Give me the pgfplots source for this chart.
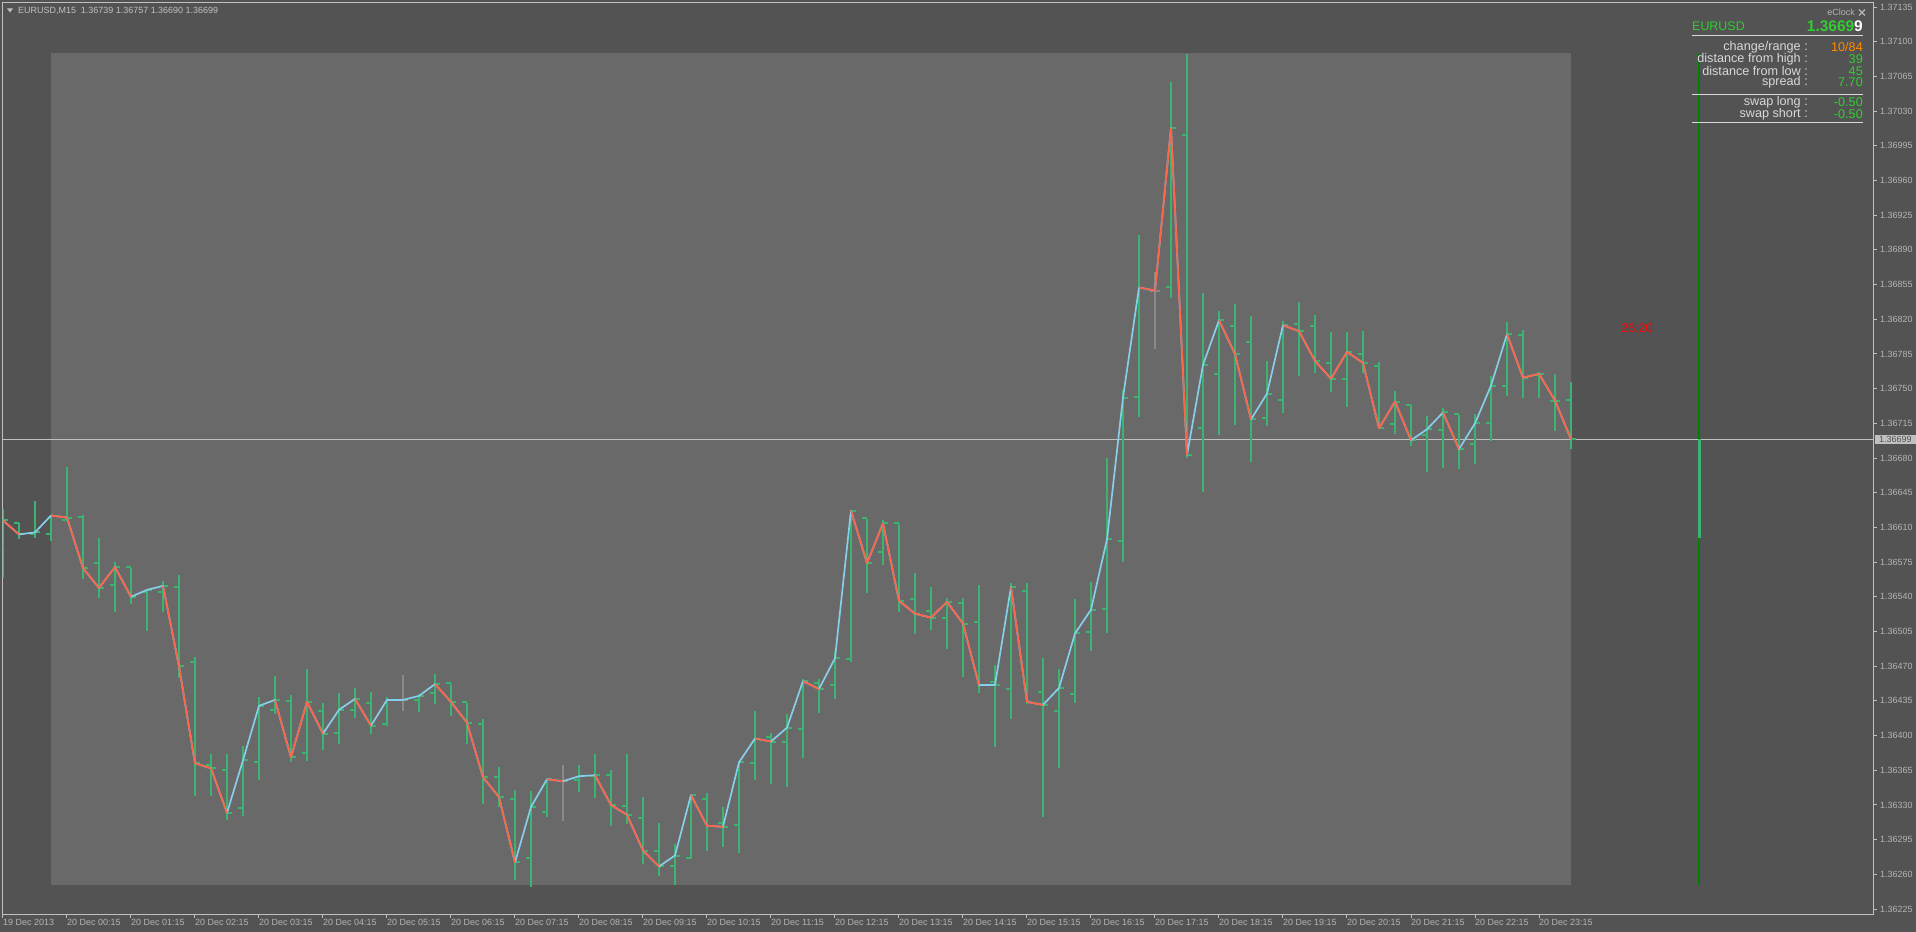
\documentclass[border=0pt]{standalone}
\usepackage{fontspec}
\setmainfont{Liberation Sans}
\usepackage{pgfplots}
\usepackage{pgfplotstable}
\pgfplotsset{compat=1.18}
\definecolor{bgc}{HTML}{535353}
\definecolor{rectc}{HTML}{696969}
\definecolor{barG}{HTML}{3CB371}
\definecolor{dojiG}{HTML}{8A8A8A}
\definecolor{lineUp}{HTML}{87CEEB}
\definecolor{lineDn}{HTML}{FF6347}
\definecolor{axc}{HTML}{C0C0C0}
\definecolor{labc}{HTML}{B4B4B4}
\definecolor{dkgreen}{HTML}{008000}
\definecolor{lgreen}{HTML}{32CD32}
\definecolor{orng}{HTML}{FF8C00}
\definecolor{paneltxt}{HTML}{D8D8D8}

% i = bar index (15-minute bars, 0 = 20 Dec 00:15); dj = 1 for doji (grey) bars;
% r = 1 where the close line is drawn in the "down" colour
\pgfplotstableread{
i o h l c dj r
-4 1.36592 1.36630 1.36560 1.36617 0 1
-3 1.36614 1.36615 1.36599 1.36603 0 1
-2 1.36603 1.36638 1.36600 1.36605 0 0
-1 1.36603 1.36622 1.36597 1.36622 0 1
0 1.36618 1.36671 1.36617 1.36620 0 1
1 1.36621 1.36624 1.36559 1.36569 0 1
2 1.36574 1.36601 1.36540 1.36549 0 1
3 1.36552 1.36575 1.36525 1.36570 0 1
4 1.36570 1.36570 1.36534 1.36540 0 1
5 1.36545 1.36547 1.36506 1.36547 0 0
6 1.36545 1.36556 1.36525 1.36551 0 1
7 1.36550 1.36563 1.36459 1.36470 0 1
8 1.36474 1.36480 1.36340 1.36372 0 1
9 1.36370 1.36382 1.36340 1.36367 0 1
10 1.36365 1.36381 1.36315 1.36322 0 1
11 1.36327 1.36390 1.36320 1.36375 0 0
12 1.36373 1.36439 1.36355 1.36430 0 0
13 1.36426 1.36461 1.36423 1.36436 0 1
14 1.36435 1.36442 1.36375 1.36378 0 1
15 1.36382 1.36468 1.36375 1.36434 0 1
16 1.36425 1.36433 1.36385 1.36402 0 1
17 1.36403 1.36444 1.36392 1.36426 0 0
18 1.36426 1.36449 1.36419 1.36437 0 1
19 1.36433 1.36444 1.36402 1.36410 0 1
20 1.36412 1.36440 1.36411 1.36436 0 0
21 1.36436 1.36461 1.36425 1.36436 1 0
22 1.36436 1.36443 1.36425 1.36440 0 0
23 1.36443 1.36464 1.36433 1.36452 0 1
24 1.36453 1.36453 1.36420 1.36434 0 1
25 1.36434 1.36434 1.36393 1.36413 0 1
26 1.36412 1.36418 1.36332 1.36358 0 1
27 1.36358 1.36368 1.36328 1.36338 0 1
28 1.36336 1.36347 1.36256 1.36272 0 1
29 1.36277 1.36346 1.36249 1.36328 0 0
30 1.36323 1.36357 1.36318 1.36356 0 1
31 1.36354 1.36370 1.36314 1.36354 1 1
32 1.36355 1.36372 1.36345 1.36359 0 0
33 1.36359 1.36381 1.36337 1.36360 0 1
34 1.36360 1.36366 1.36310 1.36330 0 1
35 1.36329 1.36382 1.36312 1.36320 0 1
36 1.36317 1.36338 1.36270 1.36284 0 1
37 1.36284 1.36313 1.36260 1.36268 0 1
38 1.36268 1.36292 1.36250 1.36279 0 0
39 1.36276 1.36340 1.36276 1.36340 0 1
40 1.36336 1.36343 1.36284 1.36309 0 1
41 1.36312 1.36329 1.36289 1.36308 0 1
42 1.36310 1.36375 1.36282 1.36373 0 0
43 1.36372 1.36426 1.36357 1.36397 0 1
44 1.36399 1.36403 1.36352 1.36394 0 1
45 1.36394 1.36422 1.36348 1.36408 0 0
46 1.36407 1.36458 1.36378 1.36455 0 1
47 1.36453 1.36458 1.36424 1.36447 0 1
48 1.36451 1.36486 1.36438 1.36478 0 0
49 1.36477 1.36628 1.36474 1.36627 0 1
50 1.36620 1.36620 1.36545 1.36574 0 1
51 1.36585 1.36619 1.36573 1.36614 0 1
52 1.36614 1.36614 1.36526 1.36536 0 1
53 1.36538 1.36564 1.36502 1.36523 0 1
54 1.36526 1.36550 1.36507 1.36519 0 1
55 1.36519 1.36540 1.36488 1.36535 0 1
56 1.36534 1.36539 1.36459 1.36513 0 1
57 1.36515 1.36552 1.36443 1.36451 0 1
58 1.36454 1.36472 1.36389 1.36451 0 0
59 1.36447 1.36555 1.36418 1.36550 0 1
60 1.36546 1.36555 1.36433 1.36434 0 1
61 1.36444 1.36479 1.36318 1.36431 0 1
62 1.36425 1.36468 1.36368 1.36448 0 0
63 1.36442 1.36539 1.36434 1.36503 0 0
64 1.36505 1.36555 1.36486 1.36527 0 0
65 1.36528 1.36681 1.36505 1.36598 0 0
66 1.36596 1.36749 1.36576 1.36741 0 0
67 1.36742 1.36906 1.36722 1.36852 0 1
68 1.36849 1.36868 1.36790 1.36849 1 1
69 1.36853 1.37061 1.36843 1.37013 0 1
70 1.37006 1.37089 1.36681 1.36683 0 1
71 1.36710 1.36848 1.36647 1.36774 0 0
72 1.36765 1.36829 1.36704 1.36819 0 1
73 1.36813 1.36835 1.36713 1.36785 0 1
74 1.36797 1.36823 1.36676 1.36719 0 1
75 1.36720 1.36779 1.36713 1.36745 0 0
76 1.36739 1.36820 1.36727 1.36814 0 1
77 1.36815 1.36837 1.36763 1.36808 0 1
78 1.36813 1.36826 1.36767 1.36778 0 1
79 1.36776 1.36808 1.36748 1.36760 0 1
80 1.36760 1.36808 1.36732 1.36787 0 1
81 1.36785 1.36809 1.36767 1.36776 0 1
82 1.36773 1.36778 1.36710 1.36710 0 1
83 1.36714 1.36748 1.36705 1.36737 0 1
84 1.36734 1.36734 1.36692 1.36698 0 1
85 1.36703 1.36723 1.36666 1.36709 0 0
86 1.36708 1.36731 1.36671 1.36726 0 1
87 1.36724 1.36724 1.36669 1.36689 0 1
88 1.36694 1.36725 1.36675 1.36715 0 0
89 1.36715 1.36763 1.36698 1.36753 0 0
90 1.36753 1.36817 1.36743 1.36805 0 1
91 1.36804 1.36810 1.36741 1.36761 0 1
92 1.36764 1.36767 1.36741 1.36765 0 1
93 1.36738 1.36766 1.36708 1.36738 0 1
94 1.36739 1.36757 1.36690 1.36699 0 1
}\bars

\begin{document}
\begin{tikzpicture}
\path[use as bounding box, fill=bgc] (0,0) rectangle (1916bp,932bp);
\begin{axis}[
  at={(2.5bp,18bp)}, anchor=south west,
  width=1870.5bp, height=911.5bp, scale only axis,
  xmin=-4.03, xmax=112.875, ymin=1.36220, ymax=1.371396,
  axis line style={draw=axc, line width=1bp},
  tick style={draw=axc, line width=1bp},
  tick align=outside, major tick length=4bp,
  xtick pos=bottom, ytick pos=right, yticklabel pos=right,
  scaled y ticks=false, scaled x ticks=false,
  xtick={-4,0,4,8,12,16,20,24,28,32,36,40,44,48,52,56,60,64,68,72,76,80,84,88,92},
  xticklabels={19 Dec 2013,20 Dec 00:15,20 Dec 01:15,20 Dec 02:15,20 Dec 03:15,20 Dec 04:15,20 Dec 05:15,20 Dec 06:15,20 Dec 07:15,20 Dec 08:15,20 Dec 09:15,20 Dec 10:15,20 Dec 11:15,20 Dec 12:15,20 Dec 13:15,20 Dec 14:15,20 Dec 15:15,20 Dec 16:15,20 Dec 17:15,20 Dec 18:15,20 Dec 19:15,20 Dec 20:15,20 Dec 21:15,20 Dec 22:15,20 Dec 23:15},
  ytick={1.36225,1.36260,1.36295,1.36330,1.36365,1.36400,1.36435,1.36470,1.36505,1.36540,1.36575,1.36610,1.36645,1.36680,1.36715,1.36750,1.36785,1.36820,1.36855,1.36890,1.36925,1.36960,1.36995,1.37030,1.37065,1.37100,1.37135},
  yticklabels={1.36225,1.36260,1.36295,1.36330,1.36365,1.36400,1.36435,1.36470,1.36505,1.36540,1.36575,1.36610,1.36645,1.36680,1.36715,1.36750,1.36785,1.36820,1.36855,1.36890,1.36925,1.36960,1.36995,1.37030,1.37065,1.37100,1.37135},
  xticklabel style={anchor=north west, inner sep=0pt, font=\fontsize{9}{9}\selectfont, text=labc, yshift=-1bp},
  yticklabel style={anchor=west, inner sep=0pt, font=\fontsize{9}{9}\selectfont, text=labc, xshift=3bp},
]
% daily range rectangle
\addplot[fill=rectc, draw=none, forget plot] coordinates {(-1,1.36249) (94,1.36249) (94,1.37089) (-1,1.37089)};
% current price line
\addplot[axc, line width=0.8bp, forget plot] coordinates {(-4.03,1.36699) (112.875,1.36699)};
% high-low bars
\addplot[draw=none, mark=none, forget plot, restrict expr to domain={\thisrow{dj}}{0:0},
  error bars/.cd, y dir=both, y explicit, error mark=none,
  error bar style={draw=barG, line width=2bp}]
  table[x=i, y expr={(\thisrow{h}+\thisrow{l})/2}, y error expr={(\thisrow{h}-\thisrow{l})/2}] {\bars};
\addplot[draw=none, mark=none, forget plot, restrict expr to domain={\thisrow{dj}}{0:0},
  error bars/.cd, x dir=minus, x fixed=0.3, error mark=none,
  error bar style={draw=barG, line width=2bp}]
  table[x=i, y=o] {\bars};
\addplot[draw=none, mark=none, forget plot, restrict expr to domain={\thisrow{dj}}{0:0},
  error bars/.cd, x dir=plus, x fixed=0.3, error mark=none,
  error bar style={draw=barG, line width=2bp}]
  table[x=i, y=c] {\bars};
% doji bars
\addplot[draw=none, mark=none, forget plot, restrict expr to domain={\thisrow{dj}}{1:1},
  error bars/.cd, y dir=both, y explicit, error mark=none,
  error bar style={draw=dojiG, line width=2bp}]
  table[x=i, y expr={(\thisrow{h}+\thisrow{l})/2}, y error expr={(\thisrow{h}-\thisrow{l})/2}] {\bars};
\addplot[draw=none, mark=none, forget plot, restrict expr to domain={\thisrow{dj}}{1:1},
  error bars/.cd, x dir=both, x fixed=0.3, error mark=none,
  error bar style={draw=dojiG, line width=2bp}]
  table[x=i, y=c] {\bars};
% close line
\addplot[lineUp, line width=1.7bp, line join=round, mark=none] table[x=i, y=c] {\bars};
\addplot[lineDn, line width=1.7bp, line join=round, mark=none, unbounded coords=jump,
  restrict expr to domain={\thisrow{r}}{1:1}] table[x=i, y=c] {\bars};
% current day candle
\addplot[dkgreen, line width=2bp, forget plot] coordinates {(102,1.36249) (102,1.37089)};
\addplot[barG, line width=3bp, forget plot] coordinates {(102,1.36599) (102,1.36699)};
\end{axis}
\begin{scope}[shift={(0bp,932bp)}, x=1bp, y=-1bp]
  % header
  \fill[axc] (7,8.5) -- (13,8.5) -- (10,12.5) -- cycle;
  \node[anchor=west, inner sep=0pt, text=axc, font=\fontsize{9}{9}\selectfont] at (18,10.5) {EURUSD,M15\ \ 1.36739 1.36757 1.36690 1.36699};
  % info panel
  \node[anchor=east, inner sep=0pt, text=labc, font=\fontsize{9}{9}\selectfont] at (1855,12.5) {eClock};
  \draw[labc, line width=1.2bp] (1859,9.5) -- (1865,15.5) (1859,15.5) -- (1865,9.5);
  \node[anchor=west, inner sep=0pt, text=lgreen, font=\fontsize{12.5}{12.5}\selectfont] at (1692,26) {EURUSD};
  \node[anchor=east, inner sep=0pt, font=\bfseries\fontsize{15.5}{15.5}\selectfont] at (1863,26) {\textcolor{lgreen}{1.3669}\textcolor{white}{9}};
  \draw[paneltxt, line width=1bp] (1692,36) -- (1863,36);
  \draw[paneltxt, line width=1bp] (1692,94.5) -- (1863,94.5);
  \draw[paneltxt, line width=1bp] (1692,122.5) -- (1863,122.5);
  \begin{scope}[every node/.style={inner sep=0pt, font=\fontsize{12.7}{12.7}\selectfont}]
    \node[anchor=east, text=paneltxt] at (1808,47) {change/range :};
    \node[anchor=east, text=paneltxt] at (1808,59) {distance from high :};
    \node[anchor=east, text=paneltxt] at (1808,71) {distance from low :};
    \node[anchor=east, text=paneltxt] at (1808,82.5) {spread :};
    \node[anchor=east, text=paneltxt] at (1808,102) {swap long :};
    \node[anchor=east, text=paneltxt] at (1808,114) {swap short :};
    \node[anchor=east, text=orng] at (1863,47) {10/84};
    \node[anchor=east, text=lgreen] at (1863,59) {39};
    \node[anchor=east, text=lgreen] at (1863,71) {45};
    \node[anchor=east, text=lgreen] at (1863,82.5) {7.70};
    \node[anchor=east, text=lgreen] at (1863,102) {-0.50};
    \node[anchor=east, text=lgreen] at (1863,114) {-0.50};
  \end{scope}
  % countdown
  \node[text=red, inner sep=0pt, font=\fontsize{12.5}{12.5}\selectfont] at (1637,328) {26:20};
  % current price label
  \node[anchor=west, fill=axc, text=bgc, inner xsep=4pt, inner ysep=1.5pt, minimum width=40bp, font=\fontsize{9}{9}\selectfont] at (1875,439.5) {1.36699};
\end{scope}
\end{tikzpicture}
\end{document}
